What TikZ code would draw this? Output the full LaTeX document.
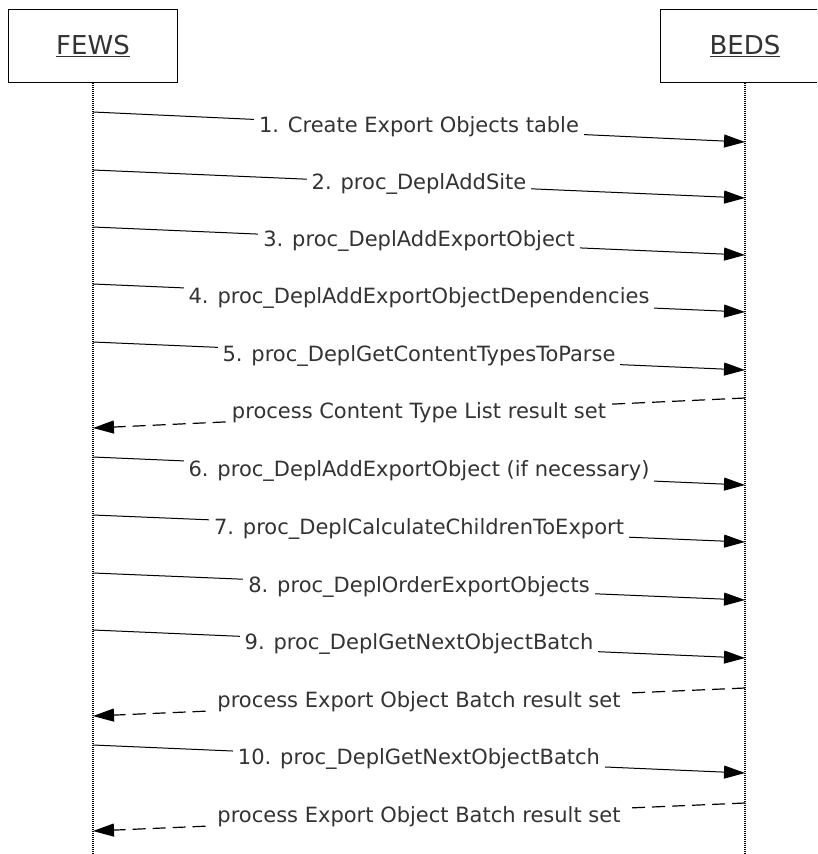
\documentclass[tikz,border=0pt]{standalone}
\usepackage{fontspec}
\setmainfont{DejaVu Sans}
\usepackage{tikz}
\usetikzlibrary{arrows.meta,positioning}

\tikzset{
	actor/.style={draw,line width=1pt,minimum width=169pt,minimum height=73pt,inner sep=0pt,font=\fontsize{26}{30}\selectfont,text=black!80},
	lifeline/.style={line width=1.1pt,dash pattern=on 1pt off 1pt},
	msg/.style={line width=1pt,->},
	ret/.style={line width=1.2pt,->,dash pattern=on 13pt off 7pt},
	lbl/.style={fill=white,inner xsep=5pt,inner ysep=1pt,font=\fontsize{21}{24}\selectfont,text=black!80}
}

\begin{document}
\begin{tikzpicture}[x=1pt,y=-1pt,>={Triangle[length=21pt,width=13pt]}]
\useasboundingbox (0,0) rectangle (817,854);
\clip (0,0) rectangle (817,854);
% actors and lifelines
\node[actor] (fews) at (93,46) {\underline{FEWS}};
\node[actor] (beds) at (745,46) {\underline{BEDS}};
\coordinate (fewsEnd) at (93,854);
\coordinate (bedsEnd) at (745,854);
\draw[lifeline] (fews.south) -- (fewsEnd);
\draw[lifeline] (beds.south) -- (bedsEnd);
% calls FEWS -> BEDS
\foreach \n/\ya/\yb/\txt in {
	1/112/142/{1. Create Export Objects table},
	2/170/198/{2. proc\_DeplAddSite},
	3/227/255/{3. proc\_DeplAddExportObject},
	4/284/312/{4. proc\_DeplAddExportObjectDependencies},
	5/342/370/{5. proc\_DeplGetContentTypesToParse},
	6/457/485/{6. proc\_DeplAddExportObject (if necessary)},
	7/515/542/{7. proc\_DeplCalculateChildrenToExport},
	8/573/600/{8. proc\_DeplOrderExportObjects},
	9/630/658/{9. proc\_DeplGetNextObjectBatch},
	10/745/773/{10. proc\_DeplGetNextObjectBatch}}{
	\coordinate (f\n) at (93,\ya);
	\coordinate (b\n) at (745,\yb);
	\draw[msg] (f\n) -- (b\n) node[lbl,midway] {\txt};
}
% result sets BEDS -> FEWS
\foreach \n/\ya/\yb/\txt in {
	r1/398/428/{process Content Type List result set},
	r2/688/716/{process Export Object Batch result set},
	r3/803/831/{process Export Object Batch result set}}{
	\coordinate (b\n) at (745,\ya);
	\coordinate (f\n) at (93,\yb);
	\draw[ret] (b\n) -- (f\n) node[lbl,midway] {\txt};
}
\end{tikzpicture}
\end{document}
